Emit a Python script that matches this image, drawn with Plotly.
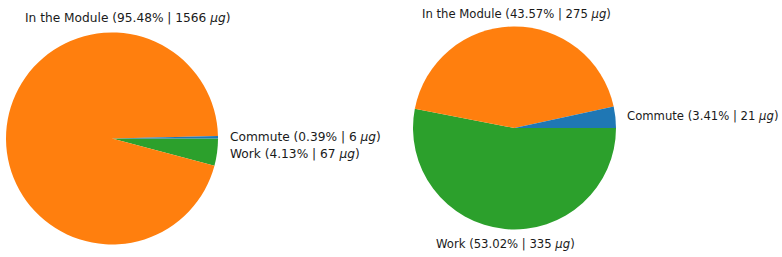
import plotly.graph_objects as go

W, H = 782, 257

categories = ["Commute", "In the Module", "Work"]
left_pct = [0.39, 95.48, 4.13]
left_ug = [6, 1566, 67]
right_pct = [3.41, 43.57, 53.02]
right_ug = [21, 275, 335]
colors = ["#1f77b4", "#ff7f0e", "#2ca02c"]

def fx(x):
    return min(max(x / W, 0.0), 1.0)

def fy(y):
    return min(max(1 - y / H, 0.0), 1.0)

def pie(pcts, cx, cy, r):
    # matplotlib order: counterclockwise from 3 o'clock == clockwise with reversed order
    return go.Pie(
        labels=categories[::-1], values=pcts[::-1], sort=False, direction="clockwise",
        rotation=90, marker=dict(colors=colors[::-1], line=dict(width=0)),
        textinfo="none", hoverinfo="label+percent",
        domain=dict(x=[fx(cx - r), fx(cx + r)], y=[fy(cy + r), fy(cy - r)]),
        showlegend=False,
    )

fig = go.Figure()
fig.add_trace(pie(left_pct, 112, 138.5, 106))
fig.add_trace(pie(right_pct, 514.5, 128, 101.5))

def label(cat, pct, ug):
    return f"{cat} ({pct:.2f}% | {ug} <i>μg</i>)"

# label anchor positions (pixels) and horizontal anchors
left_pos = [(229, 136.5, "left"), (127.5, 18, "center"), (229, 153.5, "left")]
right_pos = [(625.5, 116.5, "left"), (516.5, 13.5, "center"), (505.5, 244, "center")]

fonts = [
    dict(family="DejaVu Sans", size=12.2, color="#1a1a1a"),
    dict(family="DejaVu Sans", size=11.65, color="#1a1a1a"),
]
for (pcts, ugs, pos), font in zip(((left_pct, left_ug, left_pos), (right_pct, right_ug, right_pos)), fonts):
    for cat, p, u, (x, y, xa) in zip(categories, pcts, ugs, pos):
        fig.add_annotation(
            x=fx(x), y=fy(y), xref="paper", yref="paper",
            text=label(cat, p, u), showarrow=False, xanchor=xa, yanchor="middle",
            font=font, borderpad=0,
        )

fig.update_layout(
    width=W, height=H, margin=dict(l=0, r=0, t=0, b=0),
    paper_bgcolor="white", plot_bgcolor="white",
)
fig.write_html("out.html", config={"displayModeBar": False},
               post_script="document.body.style.margin='0';")
